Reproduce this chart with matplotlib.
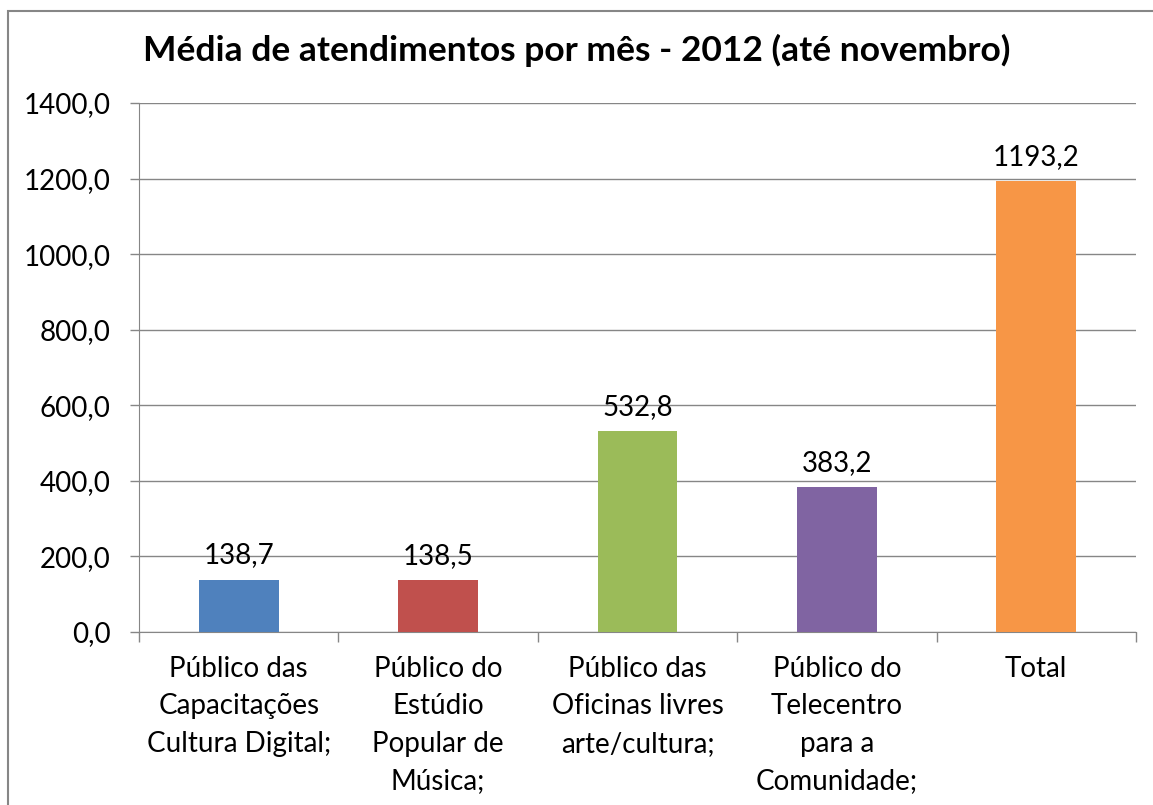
import numpy as np
import matplotlib.pyplot as plt
from matplotlib.patches import Rectangle

plt.rcParams['font.family'] = ['Lato', 'DejaVu Sans']

#data
categorias = ['Público das\nCapacitações\nCultura Digital;',
              'Público do\nEstúdio\nPopular de\nMúsica;',
              'Público das\nOficinas livres\narte/cultura;',
              'Público do\nTelecentro\npara a\nComunidade;',
              'Total']
valores = [138.7, 138.5, 532.8, 383.2, 1193.2]
cores = ['#4F81BD', '#C0504D', '#9BBB59', '#8064A2', '#F79646']
yticks = [0, 200, 400, 600, 800, 1000, 1200, 1400]

fig = plt.figure(figsize=(11.53, 8.05), dpi=100)
# moldura do grafico (estilo excel)
fig.patches.append(Rectangle((8/1153, -0.1), 1.2, 1 - 11/805 + 0.1, transform=fig.transFigure,
                             fill=False, edgecolor='#868686', linewidth=1.5))

ax = fig.add_axes([139/1153, 1 - 632/805, (1136 - 139)/1153, (632 - 103)/805])
x = np.arange(len(categorias))
bars = ax.bar(x, valores, width=0.4, color=cores, zorder=3)

for xi, v in zip(x, valores):
    ax.annotate(('%.1f' % v).replace('.', ','), (xi, v), xytext=(0, 8), textcoords='offset points',
                ha='center', va='bottom', fontsize=20)

ax.set_xlim(-0.5, len(categorias) - 0.5)
ax.set_ylim(0, 1400)
ax.set_yticks(yticks)
ax.set_yticklabels([('%.1f' % t).replace('.', ',') for t in yticks], fontsize=20)
ax.yaxis.grid(True, color='#868686', linewidth=1, zorder=0)

ax.set_xticks(x)
ax.set_xticklabels(categorias, fontsize=20, linespacing=1.55, va='top')
ax.tick_params(axis='x', length=0, pad=17)
ax.set_xticks(np.arange(len(categorias) + 1) - 0.5, minor=True)
ax.tick_params(axis='x', which='minor', length=7, color='#868686', width=1)
ax.tick_params(axis='y', length=6.5, color='#868686', width=1, pad=14)

for s in ['top', 'right']:
    ax.spines[s].set_visible(False)
for s in ['left', 'bottom']:
    ax.spines[s].set_color('#868686')

fig.text(0.5, 1 - 50/805, 'Média de atendimentos por mês - 2012 (até novembro)',
         ha='center', va='center', fontsize=25.5, fontweight='bold')

fig.savefig('out.png', dpi=100)
